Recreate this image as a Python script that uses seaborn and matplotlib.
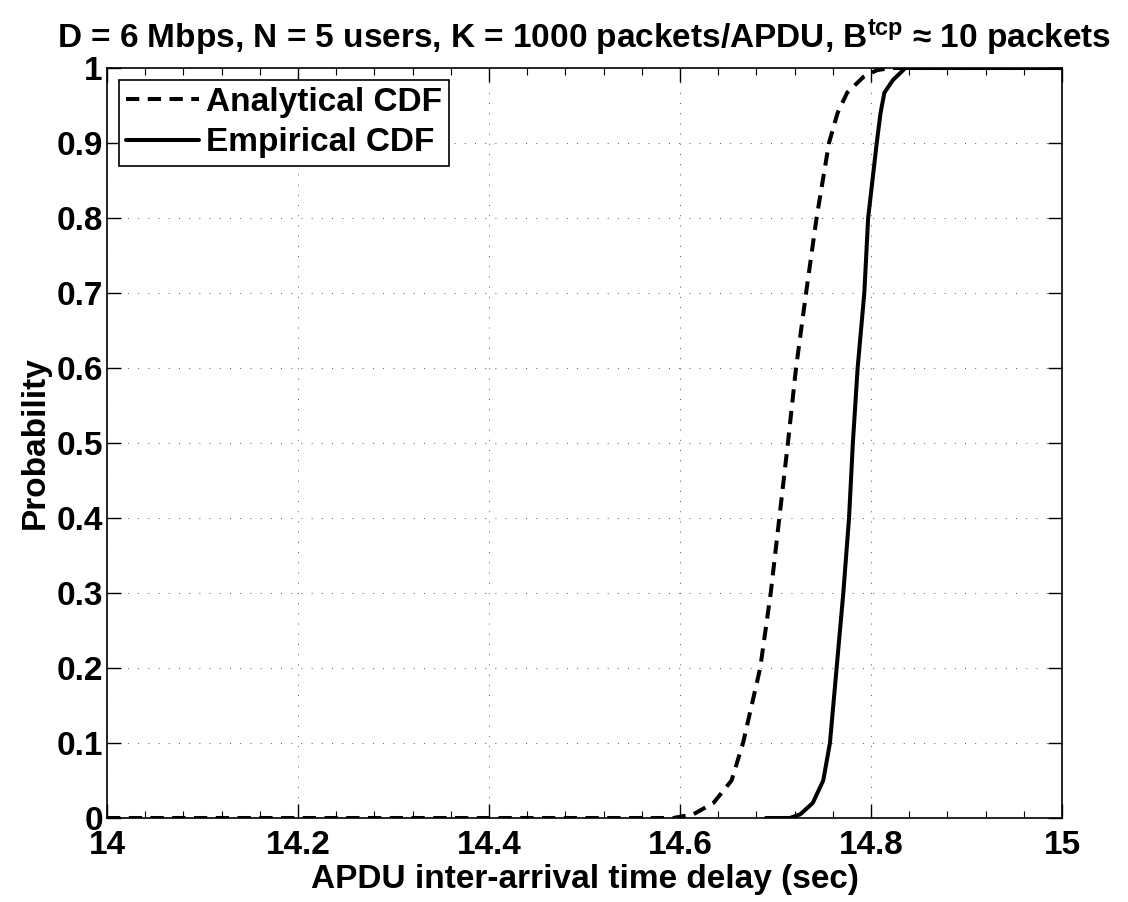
import numpy as np
import pandas as pd
import matplotlib
matplotlib.use("Agg")
import matplotlib.pyplot as plt
import seaborn as sns

sns.set_theme(style="ticks")
plt.rcParams['font.family'] = ['Liberation Sans', 'DejaVu Sans']
plt.rcParams['font.weight'] = 'bold'
plt.rcParams['text.color'] = 'black'
plt.rcParams['axes.labelcolor'] = 'black'
plt.rcParams['xtick.color'] = 'black'
plt.rcParams['ytick.color'] = 'black'
plt.rcParams['mathtext.fontset'] = 'custom'
plt.rcParams['mathtext.rm'] = 'Liberation Sans:bold'
plt.rcParams['mathtext.it'] = 'Liberation Sans:bold'
plt.rcParams['mathtext.bf'] = 'Liberation Sans:bold'

# analytical CDF
analytical_x = [14.0, 14.593, 14.614, 14.635, 14.654, 14.666, 14.684, 14.695, 14.704,
                14.713, 14.7215, 14.732, 14.743, 14.756, 14.765, 14.775, 14.792, 14.806, 14.82, 15.0]
analytical_p = [0.0, 0.0, 0.005, 0.02, 0.05, 0.1, 0.2, 0.3, 0.4,
                0.5, 0.6, 0.7, 0.8, 0.9, 0.94, 0.967, 0.988, 0.997, 1.0, 1.0]

# empirical CDF
empirical_x = [14.69, 14.715, 14.726, 14.739, 14.75, 14.757, 14.764, 14.771, 14.777,
               14.781, 14.786, 14.793, 14.797, 14.806, 14.81, 14.814, 14.823, 14.836, 15.0]
empirical_p = [0.0, 0.0, 0.005, 0.02, 0.05, 0.1, 0.2, 0.3, 0.4,
               0.5, 0.6, 0.7, 0.8, 0.9, 0.94, 0.967, 0.984, 1.0, 1.0]

x_ticks = [14, 14.2, 14.4, 14.6, 14.8, 15]
x_tick_labels = ["14", "14.2", "14.4", "14.6", "14.8", "15"]
y_ticks = [0, 0.1, 0.2, 0.3, 0.4, 0.5, 0.6, 0.7, 0.8, 0.9, 1]
y_tick_labels = ["0", "0.1", "0.2", "0.3", "0.4", "0.5", "0.6", "0.7", "0.8", "0.9", "1"]

df_a = pd.DataFrame({"x": analytical_x, "p": analytical_p})
df_e = pd.DataFrame({"x": empirical_x, "p": empirical_p})

FS = 24
fig = plt.figure(figsize=(11.28, 9.02), dpi=100)
ax = fig.add_axes([107 / 1128, 84 / 902, 955 / 1128, 750 / 902])

sns.lineplot(data=df_a, x="x", y="p", ax=ax, color="black", lw=2.9,
             estimator=None, sort=False, label="Analytical CDF", dashes=False)
sns.lineplot(data=df_e, x="x", y="p", ax=ax, color="black", lw=2.9,
             estimator=None, sort=False, label="Empirical CDF", dashes=False)
ax.lines[0].set_dashes([3.3, 2.1])

ax.set_xlim(14, 15)
ax.set_ylim(0, 1)
ax.set_xticks(x_ticks)
ax.set_xticklabels(x_tick_labels)
ax.set_yticks(y_ticks)
ax.set_yticklabels(y_tick_labels)
ax.set_xticks(np.arange(14, 15.001, 0.04), minor=True)
ax.tick_params(axis="both", which="major", direction="in", length=10, width=1,
               labelsize=FS, top=True, right=True, color="black")
ax.tick_params(axis="x", which="major", pad=9)
ax.tick_params(axis="y", which="major", pad=3)
ax.tick_params(axis="x", which="minor", direction="in", length=5, width=0.8,
               top=True, bottom=True, color="black")
for lab in ax.get_xticklabels() + ax.get_yticklabels():
    lab.set_fontweight("bold")
for s in ax.spines.values():
    s.set_visible(True)
    s.set_linewidth(1.2)
    s.set_color("black")

ax.grid(True, which="major", color="#555555", lw=0.7, linestyle=(0, (1, 9.5)))

ax.set_xlabel("APDU inter-arrival time delay (sec)", fontsize=FS, fontweight="bold", labelpad=2)
ax.set_ylabel("Probability", fontsize=FS, fontweight="bold", labelpad=4)
ax.set_title(r"D = 6 Mbps, N = 5 users, K = 1000 packets/APDU, B$^{tcp}$ ≈ 10 packets",
             fontsize=FS, fontweight="bold", pad=14)

leg = ax.legend(loc="upper left", fontsize=FS, frameon=True, fancybox=False,
                handlelength=2.2, handletextpad=0.2, borderaxespad=0.35,
                labelspacing=0.28, borderpad=0.22)
leg.get_frame().set_edgecolor("black")
leg.get_frame().set_linewidth(1.2)
leg.get_frame().set_alpha(1)
for t in leg.get_texts():
    t.set_fontweight("bold")

fig.savefig("out.png", dpi=100)
